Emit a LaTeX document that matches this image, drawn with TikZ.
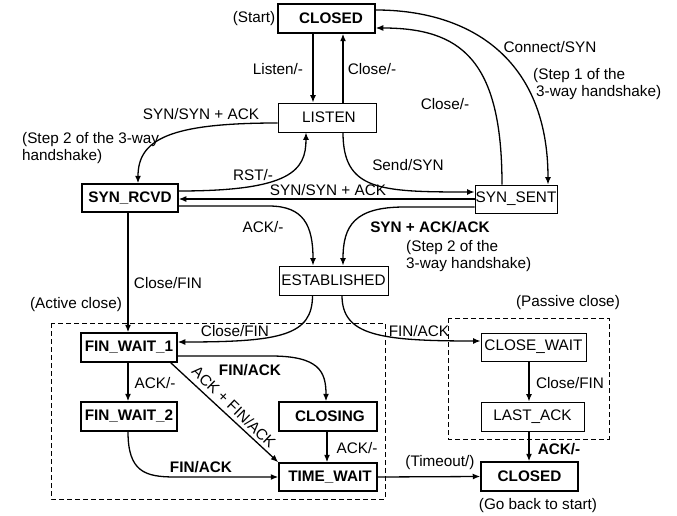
\documentclass[tikz,border=0pt]{standalone}
\usepackage{fontspec}
\setmainfont{Liberation Sans}
\usetikzlibrary{arrows.meta}
\begin{document}
\begin{tikzpicture}[x=1pt,y=-1pt,
  every node/.style={font=\fontsize{15.3}{17}\selectfont},
  st/.style={draw,line width=0.9pt,inner sep=0pt,minimum height=#1},
  st/.default=29pt,
  stb/.style={st,line width=1.5pt,font=\fontsize{15.3}{17}\selectfont\bfseries},
  arr/.style={line width=1.3pt,-{Latex[length=7.5pt,width=6pt]}},
  lbl/.style={inner sep=1pt},
  blbl/.style={inner sep=1pt,font=\fontsize{15.3}{17}\selectfont\bfseries},
  grp/.style={draw,line width=0.9pt,dash pattern=on 5pt off 3pt}]
\useasboundingbox (0,0) rectangle (677,516);
% groups
\draw[grp] (51,323) rectangle (385,499);
\draw[grp] (448,318) rectangle (609,439);
% states
\node[stb,minimum width=97pt] (closedA) at (326.5,18.5) {\hspace{9pt}CLOSED};
\node[st,minimum width=98pt] (listen) at (327,117.5) {\hspace{4pt}LISTEN};
\node[stb,minimum width=96pt,minimum height=28pt] (synrcvd) at (130,198) {SYN\_RCVD};
\node[st,minimum width=82pt,minimum height=28pt] (synsent) at (516,199) {SYN\_SENT};
\node[st,minimum width=109pt] (estab) at (333.5,280.5) {ESTABLISHED};
\node[stb,minimum width=96pt] (fw1) at (129,347.5) {FIN\_WAIT\_1};
\node[stb,minimum width=96pt] (fw2) at (129,416.5) {FIN\_WAIT\_2};
\node[stb,minimum width=98pt] (closing) at (328,416.5) {\hspace{4pt}CLOSING};
\node[stb,minimum width=98pt,minimum height=28pt] (timewait) at (328,477) {\hspace{4pt}TIME\_WAIT};
\node[st,minimum width=105pt,minimum height=28pt] (closewait) at (533.5,347) {CLOSE\_WAIT};
\node[st,minimum width=103pt] (lastack) at (532.5,416.5) {LAST\_ACK};
\node[stb,minimum width=97pt] (closedB) at (529.5,476.5) {CLOSED};
% connectors
\draw[arr] ([xshift=-13.5pt]closedA.south) -- ([xshift=-14pt]listen.north);
\draw[arr] ([xshift=16pt]listen.north) -- ([xshift=16.5pt]closedA.south);
\draw[arr] ([yshift=8.5pt]closedA.east) .. controls +(95,0) and +(0,-125) .. ([xshift=32pt]synsent.north);
\draw[arr] ([xshift=-14pt]synsent.north) .. controls +(0,-125) and +(85,0) .. ([yshift=-9.5pt]closedA.east);
\draw[arr] ([xshift=16pt]listen.south) .. controls +(0,58) and +(-95,0) .. ([yshift=7pt]synsent.west);
\draw[arr] ([yshift=-5.5pt]listen.west) .. controls +(-108,0) and +(0,-44) .. ([xshift=8pt]synrcvd.north);
\draw[arr] ([yshift=7pt]synrcvd.east) .. controls +(112,0) and +(0,38) .. ([xshift=-21pt]listen.south);
\draw[arr] (synsent.west) -- (synrcvd.east |- synsent.west);
\draw[arr] ([yshift=-8pt]synrcvd.east) -- +(90,0) .. controls +(35,0) and +(0,-40) .. ([xshift=-20.5pt]estab.north);
\draw[arr] ([yshift=-8pt]synsent.west) -- +(-70,0) .. controls +(-50,0) and +(0,-40) .. ([xshift=9.5pt]estab.north);
\draw[arr] ([xshift=-2pt]synrcvd.south) -- ([xshift=-1pt]fw1.north);
\draw[arr] ([xshift=-21pt]estab.south) .. controls +(0,40) and +(103,0) .. ([yshift=5.5pt]fw1.east);
\draw[arr] ([xshift=8.5pt]estab.south) .. controls +(0,40) and +(-101,0) .. ([yshift=6pt]closewait.west);
\draw[arr] ([xshift=-1pt]fw1.south) -- ([xshift=-1pt]fw2.north);
\draw[arr] ([yshift=-8.5pt]fw1.east) -- +(93,0) .. controls +(48,0) and +(0,-30) .. ([xshift=-2pt]closing.north);
\draw[arr] ([xshift=-7pt]fw1.south east) -- (timewait.north west);
\draw[arr] ([xshift=-1pt]closing.south) -- ([xshift=-1pt]timewait.north);
\coordinate (fb) at (175,477);
\draw[arr] ([xshift=-1pt]fw2.south) .. controls +(0,40) and +(-30,0) .. (fb) -- (timewait.west);
\draw[arr] (timewait.east) -- (closedB.west);
\draw[arr] ([xshift=-4.5pt]closewait.south) -- ([xshift=-3.5pt]lastack.north);
\draw[arr] ([xshift=-3.5pt]lastack.south) -- ([xshift=-0.5pt]closedB.north);
% labels
\node[lbl,rotate=-44] (t0) at (234,407) {ACK + FIN/ACK};
\node[lbl] (t1) at (254,19) {(Start)};
\node[lbl] (t2) at (278,69) {Listen/-};
\node[lbl] (t3) at (372,69) {Close/-};
\node[lbl] (t4) at (550,47) {Connect/SYN};
\node[lbl,anchor=west,align=left] (t5) at (532,84) {(Step 1 of the\\\hspace{3pt}3-way handshake)};
\node[lbl] (t6) at (445,104) {Close/-};
\node[lbl] (t7) at (408,165) {Send/SYN};
\node[lbl] (t8) at (201,114) {SYN/SYN + ACK};
\node[lbl,anchor=west,align=left] (t9) at (21,148) {(Step 2 of the 3-way\\handshake)};
\node[lbl] (t10) at (253,175) {RST/-};
\node[lbl] (t11) at (328,190) {SYN/SYN + ACK};
\node[lbl] (t12) at (263,227) {ACK/-};
\node[blbl] (t13) at (430,227) {SYN + ACK/ACK};
\node[lbl,anchor=west,align=left] (t14) at (405,256) {(Step 2 of the\\3-way handshake)};
\node[lbl] (t15) at (168,283) {Close/FIN};
\node[lbl] (t16) at (76,305) {(Active close)};
\node[lbl] (t17) at (235,331) {Close/FIN};
\node[lbl] (t18) at (419,331) {FIN/ACK};
\node[lbl] (t19) at (568,303) {(Passive close)};
\node[blbl] (t20) at (250,370) {FIN/ACK};
\node[lbl] (t21) at (155,383) {ACK/-};
\node[lbl] (t22) at (357,448) {ACK/-};
\node[blbl] (t23) at (201,467) {FIN/ACK};
\node[lbl] (t24) at (570,383) {Close/FIN};
\node[blbl] (t25) at (559,449) {ACK/-};
\node[lbl] (t26) at (440,463) {(Timeout/)};
\node[lbl] (t27) at (538,506) {(Go back to start)};
\end{tikzpicture}
\end{document}
